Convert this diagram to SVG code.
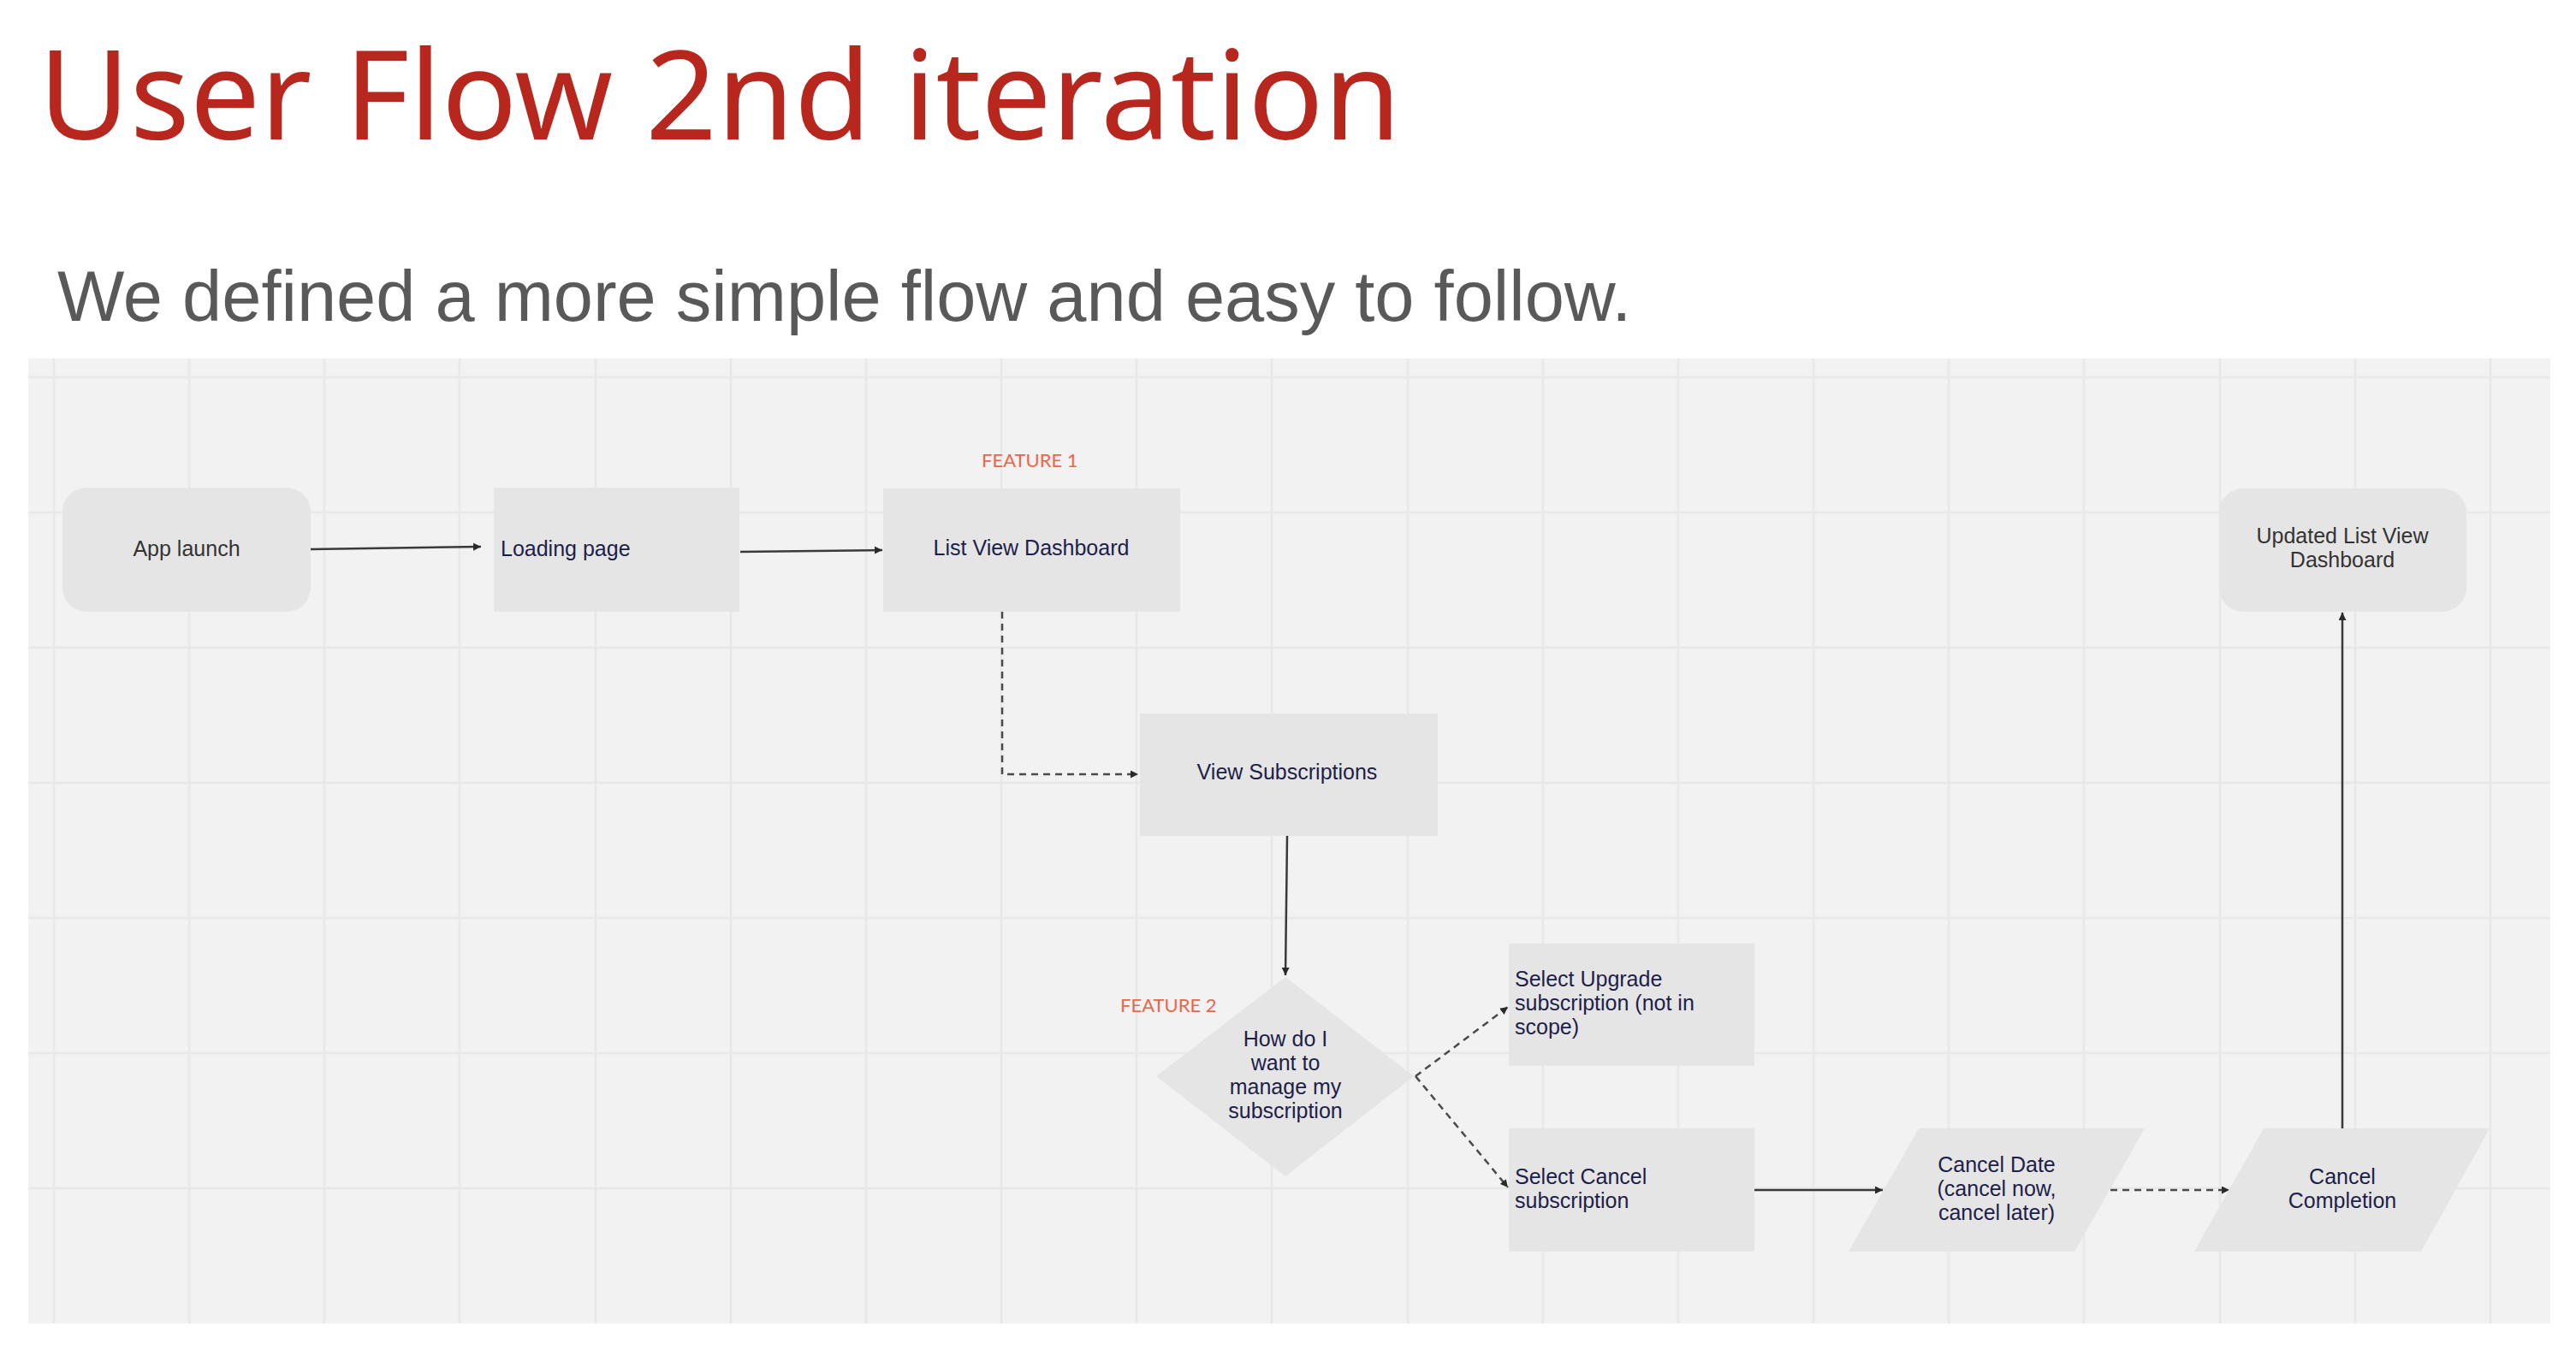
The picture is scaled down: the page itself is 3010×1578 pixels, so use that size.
<svg xmlns="http://www.w3.org/2000/svg" width="3010" height="1578" viewBox="0 0 3010 1578">
<defs>
<style>
.title{font-family:"Noto Sans","Liberation Sans",sans-serif;font-size:145px;fill:#B8271D;font-weight:400}
.sub{font-family:"Liberation Sans",Arial,sans-serif;font-size:83px;fill:#595959}
.grid line{stroke:#e8e8e8;stroke-width:2.5}
.box{fill:#e5e5e5}
.t{font-family:"Liberation Sans",Arial,sans-serif;font-size:25px;fill:#1e1e4a}
.tg{font-family:"Liberation Sans",Arial,sans-serif;font-size:25px;fill:#333333}
.feat{font-family:Lato,"Liberation Sans",sans-serif;font-size:22px;fill:#E8674A}
.solid{stroke:#3a3a3a;stroke-width:2.5;fill:none}
.dash{stroke:#4a4a4a;stroke-width:2.5;fill:none;stroke-dasharray:8 6}
</style>
<marker id="ah" viewBox="0 0 10 10" refX="10" refY="5" markerWidth="9" markerHeight="9" markerUnits="userSpaceOnUse" orient="auto">
<path d="M0,0 L10,5 L0,10 z" fill="#2a2a2a"/>
</marker>
</defs>
<rect width="3010" height="1578" fill="#ffffff"/>
<text class="title" x="45" y="163" textLength="1592" lengthAdjust="spacingAndGlyphs">User Flow 2nd iteration</text>
<text class="sub" x="67" y="375">We defined a more simple flow and easy to follow.</text>

<rect x="33" y="419" width="2947" height="1128" fill="#f2f2f2"/>
<g class="grid">
<line x1="63" y1="419" x2="63" y2="1547"/>
<line x1="221" y1="419" x2="221" y2="1547"/>
<line x1="379" y1="419" x2="379" y2="1547"/>
<line x1="537" y1="419" x2="537" y2="1547"/>
<line x1="696" y1="419" x2="696" y2="1547"/>
<line x1="854" y1="419" x2="854" y2="1547"/>
<line x1="1012" y1="419" x2="1012" y2="1547"/>
<line x1="1170" y1="419" x2="1170" y2="1547"/>
<line x1="1328" y1="419" x2="1328" y2="1547"/>
<line x1="1486" y1="419" x2="1486" y2="1547"/>
<line x1="1645" y1="419" x2="1645" y2="1547"/>
<line x1="1803" y1="419" x2="1803" y2="1547"/>
<line x1="1961" y1="419" x2="1961" y2="1547"/>
<line x1="2119" y1="419" x2="2119" y2="1547"/>
<line x1="2277" y1="419" x2="2277" y2="1547"/>
<line x1="2435" y1="419" x2="2435" y2="1547"/>
<line x1="2594" y1="419" x2="2594" y2="1547"/>
<line x1="2752" y1="419" x2="2752" y2="1547"/>
<line x1="2910" y1="419" x2="2910" y2="1547"/>
<line x1="33" y1="441" x2="2980" y2="441"/>
<line x1="33" y1="599" x2="2980" y2="599"/>
<line x1="33" y1="757" x2="2980" y2="757"/>
<line x1="33" y1="915" x2="2980" y2="915"/>
<line x1="33" y1="1073" x2="2980" y2="1073"/>
<line x1="33" y1="1231" x2="2980" y2="1231"/>
<line x1="33" y1="1389" x2="2980" y2="1389"/>
</g>

<g id="connectors">
<path class="solid" d="M363,642 L562,639" marker-end="url(#ah)"/>
<path class="solid" d="M865,645 L1031,643" marker-end="url(#ah)"/>
<path class="dash" d="M1171,715 L1171,905 L1330,905" marker-end="url(#ah)"/>
<path class="solid" d="M1504,977 L1502,1140" marker-end="url(#ah)"/>
<path class="dash" d="M1654,1258 L1762,1177" marker-end="url(#ah)"/>
<path class="dash" d="M1654,1258 L1762,1388" marker-end="url(#ah)"/>
<path class="solid" d="M2050,1391 L2200,1391" marker-end="url(#ah)"/>
<path class="dash" d="M2466,1391 L2605,1391" marker-end="url(#ah)"/>
<path class="solid" d="M2737,1319 L2737,716" marker-end="url(#ah)"/>
</g>

<g id="app-launch">
<rect class="box" x="73" y="570" width="290" height="145" rx="28"/>
<text class="tg" x="218" y="650" text-anchor="middle">App launch</text>
</g>
<g id="loading-page">
<rect class="box" x="577" y="570" width="287" height="145"/>
<text class="t" x="585" y="650">Loading page</text>
</g>
<g id="list-view-dashboard">
<text class="feat" x="1147" y="546">FEATURE 1</text>
<rect class="box" x="1032" y="571" width="347" height="144"/>
<text class="t" x="1205" y="649" text-anchor="middle">List View Dashboard</text>
</g>
<g id="view-subscriptions">
<rect class="box" x="1332" y="834" width="348" height="143"/>
<text class="t" x="1504" y="911" text-anchor="middle">View Subscriptions</text>
</g>
<g id="decision">
<text class="feat" x="1309" y="1183">FEATURE 2</text>
<polygon class="box" points="1502,1142 1652,1258 1502,1375 1351,1258"/>
<text class="t" text-anchor="middle"><tspan x="1502" y="1223">How do I</tspan><tspan x="1502" y="1251">want to</tspan><tspan x="1502" y="1279">manage my</tspan><tspan x="1502" y="1307">subscription</tspan></text>
</g>
<g id="select-upgrade">
<rect class="box" x="1763" y="1103" width="287" height="143"/>
<text class="t"><tspan x="1770" y="1153">Select Upgrade</tspan><tspan x="1770" y="1181">subscription (not in</tspan><tspan x="1770" y="1209">scope)</tspan></text>
</g>
<g id="select-cancel">
<rect class="box" x="1763" y="1319" width="287" height="144"/>
<text class="t"><tspan x="1770" y="1384">Select Cancel</tspan><tspan x="1770" y="1412">subscription</tspan></text>
</g>
<g id="cancel-date">
<polygon class="box" points="2242,1319 2506,1319 2424,1463 2160,1463"/>
<text class="t" text-anchor="middle"><tspan x="2333" y="1370">Cancel Date</tspan><tspan x="2333" y="1398">(cancel now,</tspan><tspan x="2333" y="1426">cancel later)</tspan></text>
</g>
<g id="cancel-completion">
<polygon class="box" points="2645,1319 2909,1319 2829,1463 2564,1463"/>
<text class="t" text-anchor="middle"><tspan x="2737" y="1384">Cancel</tspan><tspan x="2737" y="1412">Completion</tspan></text>
</g>
<g id="updated-list-view">
<rect class="box" x="2593" y="571" width="289" height="144" rx="28"/>
<text class="tg" text-anchor="middle"><tspan x="2737" y="635">Updated List View</tspan><tspan x="2737" y="663">Dashboard</tspan></text>
</g>
</svg>
